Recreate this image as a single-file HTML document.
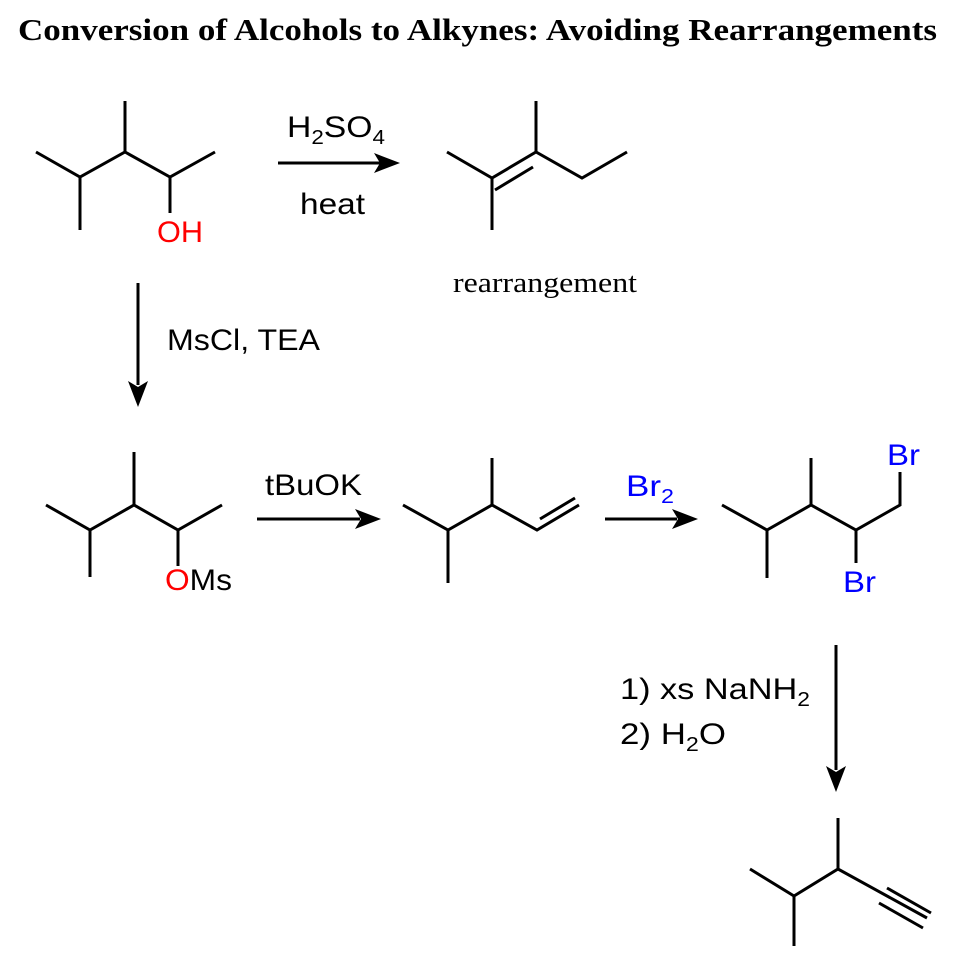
<!DOCTYPE html>
<html><head><meta charset="utf-8"><style>
html,body{margin:0;padding:0;background:#fff}
svg{display:block}
.t{font-family:"Liberation Sans",Arial,sans-serif;font-size:30px;fill:#000}
</style></head><body>
<svg width="959" height="979" viewBox="0 0 959 979" xmlns="http://www.w3.org/2000/svg">
<text x="18" y="40" textLength="919" lengthAdjust="spacingAndGlyphs" font-family="Liberation Serif,serif" font-weight="bold" font-size="31">Conversion of Alcohols to Alkynes: Avoiding Rearrangements</text>
<g stroke="#000" stroke-width="3" fill="none" stroke-linecap="butt">
<polyline points="36,152 80,177 125,152 170,177 215,152"/>
<line x1="80" y1="177" x2="80" y2="230"/>
<line x1="125" y1="152" x2="125" y2="101"/>
<line x1="170" y1="177" x2="170" y2="213"/>
<line x1="278" y1="163" x2="380" y2="163"/>
<polyline points="447,152 492,178 536,152 582,178 627,152"/>
<line x1="492" y1="178" x2="492" y2="230"/>
<line x1="536" y1="152" x2="536" y2="101"/>
<line x1="495" y1="190" x2="533" y2="167"/>
<line x1="138" y1="283" x2="138" y2="385"/>
<polyline points="46,505 90,530 134,505 178,530 222,505"/>
<line x1="90" y1="530" x2="90" y2="577"/>
<line x1="134" y1="505" x2="134" y2="452"/>
<line x1="178" y1="530" x2="178" y2="566"/>
<line x1="257" y1="519" x2="360" y2="519"/>
<polyline points="403,505 448,530 492,505 537,530 579,505"/>
<line x1="448" y1="530" x2="448" y2="583"/>
<line x1="492" y1="505" x2="492" y2="458"/>
<line x1="540" y1="519" x2="575" y2="498"/>
<line x1="605" y1="519" x2="677" y2="519"/>
<polyline points="722,505 767,530 811,505 856,530 900,505 900,472"/>
<line x1="767" y1="530" x2="767" y2="578"/>
<line x1="811" y1="505" x2="811" y2="458"/>
<line x1="856" y1="530" x2="856" y2="563"/>
<line x1="836" y1="645" x2="836" y2="770"/>
<polyline points="750,869 794,896 838,869 927,918"/>
<line x1="794" y1="896" x2="794" y2="946"/>
<line x1="838" y1="869" x2="838" y2="818"/>
<line x1="887" y1="888" x2="931" y2="913"/>
<line x1="879" y1="903" x2="923" y2="928"/>
</g>
<g fill="#000">
<polygon points="400,163 374,153 380,163 374,173"/>
<polygon points="138,407 128,381 138,387 148,381"/>
<polygon points="381,519 355,509 361,519 355,529"/>
<polygon points="698,519 672,509 678,519 672,529"/>
<polygon points="836,792 826,766 836,772 846,766"/>
</g>
<text class="t" x="287" y="137" textLength="98" lengthAdjust="spacingAndGlyphs">H<tspan font-size="20" dy="7">2</tspan><tspan dy="-7">SO</tspan><tspan font-size="20" dy="7">4</tspan></text>
<text class="t" x="300" y="214" textLength="65" lengthAdjust="spacingAndGlyphs">heat</text>
<text class="t" x="157" y="242" textLength="46" lengthAdjust="spacingAndGlyphs" style="fill:#f00">OH</text>
<text x="453" y="292" textLength="184" lengthAdjust="spacingAndGlyphs" font-family="Liberation Serif,serif" font-size="29">rearrangement</text>
<text class="t" x="167" y="350" textLength="153" lengthAdjust="spacingAndGlyphs">MsCl, TEA</text>
<text class="t" x="165" y="590" textLength="67" lengthAdjust="spacingAndGlyphs"><tspan style="fill:#f00">O</tspan>Ms</text>
<text class="t" x="265" y="495" textLength="97" lengthAdjust="spacingAndGlyphs">tBuOK</text>
<text class="t" x="626" y="496" textLength="48" lengthAdjust="spacingAndGlyphs" style="fill:#00f">Br<tspan font-size="20" dy="7">2</tspan></text>
<text class="t" x="887" y="465" textLength="33" lengthAdjust="spacingAndGlyphs" style="fill:#00f">Br</text>
<text class="t" x="843" y="592" textLength="33" lengthAdjust="spacingAndGlyphs" style="fill:#00f">Br</text>
<text class="t" x="620" y="699" textLength="190" lengthAdjust="spacingAndGlyphs">1) xs NaNH<tspan font-size="20" dy="7">2</tspan></text>
<text class="t" x="620" y="744" textLength="106" lengthAdjust="spacingAndGlyphs">2) H<tspan font-size="20" dy="7">2</tspan><tspan dy="-7">O</tspan></text>
</svg>
</body></html>
